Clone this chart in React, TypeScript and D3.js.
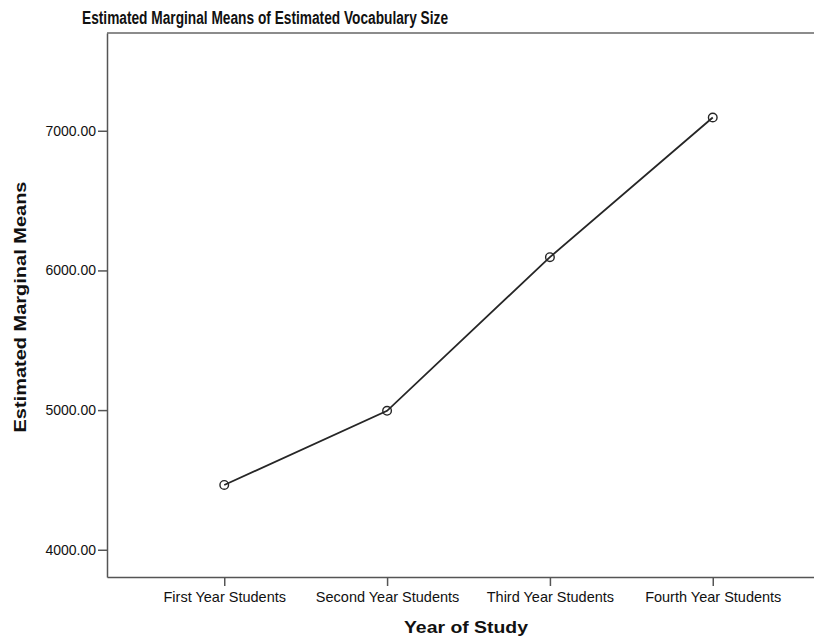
import { useEffect, useRef } from "react";
import * as d3 from "d3";

const categories = [
  "First Year Students",
  "Second Year Students",
  "Third Year Students",
  "Fourth Year Students",
];
const means = [4464, 4995, 6095, 7095];
const yTicks = [4000, 5000, 6000, 7000];

const App = () => {
  const svgRef = useRef<SVGSVGElement>(null);

  useEffect(() => {
    const width = 814;
    const height = 643;
    const margin = { top: 33, right: -16, bottom: 66, left: 107 };
    const innerW = width - margin.left - margin.right;
    const innerH = height - margin.top - margin.bottom;

    const svg = d3.select(svgRef.current).attr("width", width).attr("height", height);
    svg.selectAll("*").remove();

    const g = svg.append("g").attr("transform", `translate(${margin.left},${margin.top})`);

    const x = d3.scalePoint().domain(categories).range([0, innerW]).padding(0.72);
    const y = d3.scaleLinear().domain([3805, 7700]).range([innerH, 0]);

    // frame
    g.append("line")
      .attr("x1", 0).attr("x2", innerW).attr("y1", 0).attr("y2", 0)
      .attr("stroke", "#666").attr("stroke-width", 1.5);

    const xAxis = g
      .append("g")
      .attr("transform", `translate(0,${innerH})`)
      .call(d3.axisBottom(x).tickSizeInner(9).tickSizeOuter(0).tickPadding(6));
    const yAxis = g
      .append("g")
      .call(
        d3.axisLeft(y).tickValues(yTicks).tickFormat(d3.format(".2f")).tickSizeInner(9).tickSizeOuter(0).tickPadding(2)
      );

    [xAxis, yAxis].forEach((a) => {
      a.select(".domain").attr("stroke", "#555").attr("stroke-width", 1.5);
      a.selectAll(".tick line").attr("stroke", "#555").attr("stroke-width", 1.5);
      a.selectAll("text")
        .attr("fill", "#111")
        .attr("font-family", "Liberation Sans, Arial, sans-serif");
    });
    xAxis.selectAll("text").attr("font-size", 14.5);
    yAxis.selectAll("text").attr("font-size", 14);

    const line = d3
      .line<number>()
      .x((_, i) => x(categories[i]) as number)
      .y((d) => y(d));

    g.append("path")
      .datum(means)
      .attr("d", line)
      .attr("fill", "none")
      .attr("stroke", "#262626")
      .attr("stroke-width", 1.8);

    g.selectAll(".pt")
      .data(means)
      .enter()
      .append("circle")
      .attr("class", "pt")
      .attr("cx", (_, i) => x(categories[i]) as number)
      .attr("cy", (d) => y(d))
      .attr("r", 4.3)
      .attr("fill", "none")
      .attr("stroke", "#262626")
      .attr("stroke-width", 1.4);

    svg.append("text")
      .attr("x", 265)
      .attr("y", 24)
      .attr("text-anchor", "middle")
      .attr("font-family", "Liberation Sans, Arial, sans-serif")
      .attr("font-weight", "bold")
      .attr("font-size", 17.5)
      .attr("textLength", 366)
      .attr("lengthAdjust", "spacingAndGlyphs")
      .attr("fill", "#111")
      .text("Estimated Marginal Means of Estimated Vocabulary Size");

    svg.append("text")
      .attr("x", 466)
      .attr("y", 633)
      .attr("text-anchor", "middle")
      .attr("font-family", "Liberation Sans, Arial, sans-serif")
      .attr("font-weight", "bold")
      .attr("font-size", 16.5)
      .attr("textLength", 124)
      .attr("lengthAdjust", "spacingAndGlyphs")
      .attr("fill", "#111")
      .text("Year of Study");

    svg.append("text")
      .attr("transform", `translate(26,307) rotate(-90)`)
      .attr("text-anchor", "middle")
      .attr("font-family", "Liberation Sans, Arial, sans-serif")
      .attr("font-weight", "bold")
      .attr("font-size", 16.5)
      .attr("textLength", 251)
      .attr("lengthAdjust", "spacingAndGlyphs")
      .attr("fill", "#111")
      .text("Estimated Marginal Means");
  }, []);

  return (
    <div style={{ position: "absolute", left: 0, top: 0, overflow: "hidden", width: 814, height: 643 }}>
      <svg ref={svgRef} style={{ display: "block" }}></svg>
    </div>
  );
};

export default App;
